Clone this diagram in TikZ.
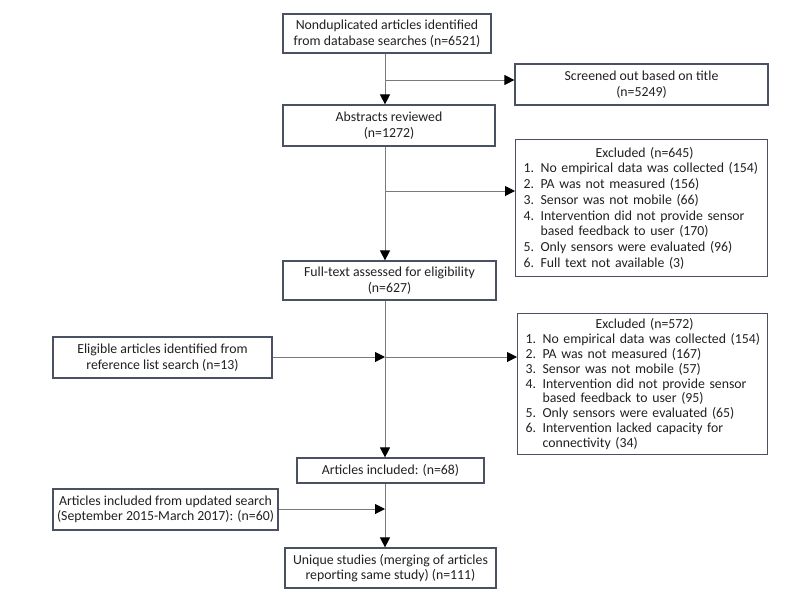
\documentclass[tikz,border=0pt]{standalone}
\usepackage{fontspec}
\setmainfont{Carlito}
\usetikzlibrary{arrows.meta}
\definecolor{boxline}{HTML}{4A5160}
\definecolor{conline}{HTML}{7A7A7A}
\definecolor{txt}{HTML}{202020}
\tikzset{
  box/.style={draw=boxline, line width=1.2pt, inner sep=0pt, align=center,
    font=\fontsize{13.8}{15.5}\selectfont, text=txt},
  listbox/.style={draw=boxline, line width=1.2pt, inner xsep=8pt, inner ysep=0pt,
    align=left, anchor=north west, text=txt},
  arr/.style={draw=conline, line width=1pt, -{Triangle[length=10pt,width=10pt,color=black]}},
  con/.style={draw=conline, line width=1pt}
}
\newcommand{\itm}[2]{\makebox[17pt][l]{#1}\mbox{#2}}
\newcommand{\cnt}[1]{\hspace*{17pt}\mbox{#1}}
\begin{document}
\begin{tikzpicture}[x=1pt,y=-1pt]
\useasboundingbox (0,0) rectangle (800,600);
\coordinate (spine) at (385,0);
\coordinate (j1) at (385,80);
\coordinate (j2) at (385,191);
\coordinate (j3) at (385,357);
\coordinate (j4) at (385,509);

\node[box, minimum width=208pt, minimum height=39pt] (b1) at (387,33.5)
  {Nonduplicated articles identified\\from database searches (n=6521)};
\node[box, minimum width=253pt, minimum height=41pt] (scr) at (641.5,84.5)
  {Screened out based on title\\(n=5249)};
\node[box, minimum width=212pt, minimum height=41pt] (b2) at (389,125.5)
  {Abstracts reviewed\\(n=1272)};
\node[listbox, text width=236pt, minimum height=137pt,
      font=\fontsize{13.8}{15.7}\selectfont] (ex1) at (515,139)
  {\hspace*{72pt}Excluded (n=645)\\
   \itm{1.}{No empirical data was collected (154)}\\
   \itm{2.}{PA was not measured (156)}\\
   \itm{3.}{Sensor was not mobile (66)}\\
   \itm{4.}{Intervention did not provide sensor}\\
   \cnt{based feedback to user (170)}\\
   \itm{5.}{Only sensors were evaluated (96)}\\
   \itm{6.}{Full text not available (3)}};
\node[box, minimum width=213pt, minimum height=39pt] (b3) at (389.5,280.5)
  {Full-text assessed for eligibility\\(n=627)};
\node[box, minimum width=219pt, minimum height=41pt] (elig) at (162.5,357.5)
  {Eligible articles identified from\\reference list search (n=13)};
\node[listbox, text width=234pt, minimum height=141pt,
      font=\fontsize{13.8}{14.8}\selectfont] (ex2) at (517,313)
  {\hspace*{70pt}Excluded (n=572)\\
   \itm{1.}{No empirical data was collected (154)}\\
   \itm{2.}{PA was not measured (167)}\\
   \itm{3.}{Sensor was not mobile (57)}\\
   \itm{4.}{Intervention did not provide sensor}\\
   \cnt{based feedback to user (95)}\\
   \itm{5.}{Only sensors were evaluated (65)}\\
   \itm{6.}{Intervention lacked capacity for}\\
   \cnt{connectivity (34)}};
\node[box, minimum width=187pt, minimum height=25pt] (b4) at (390.5,470.5)
  {Articles included: (n=68)};
\node[box, minimum width=225pt, minimum height=41pt] (upd) at (165.5,509.5)
  {Articles included from updated search\\(September 2015-March 2017): (n=60)};
\node[box, minimum width=211pt, minimum height=40pt] (b5) at (390.5,568)
  {Unique studies (merging of articles\\reporting same study) (n=111)};

\draw[arr] (b1.south -| spine) -- (b2.north -| spine);
\draw[arr] (j1) -- (j1 -| scr.west);
\draw[arr] (b2.south -| spine) -- (b3.north -| spine);
\draw[arr] (j2) -- (j2 -| ex1.west);
\draw[arr] (b3.south -| spine) -- (b4.north -| spine);
\draw[arr] (elig.east |- j3) -- (j3);
\draw[arr] (j3) -- (j3 -| ex2.west);
\draw[arr] (b4.south -| spine) -- (b5.north -| spine);
\draw[arr] (upd.east |- j4) -- (j4);
\end{tikzpicture}
\end{document}
